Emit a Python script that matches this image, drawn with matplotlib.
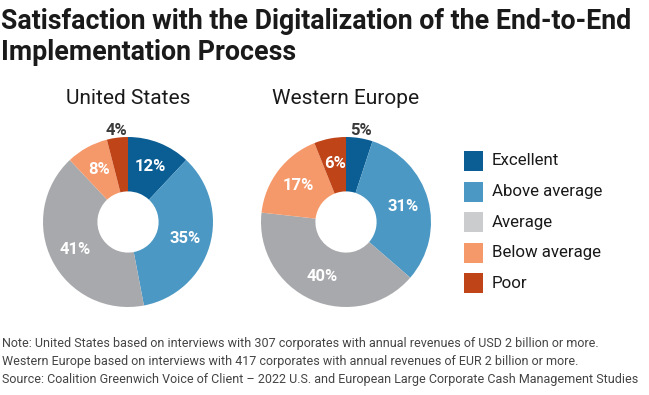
import numpy as np
import matplotlib
matplotlib.use('Agg')
import matplotlib.pyplot as plt
from matplotlib.patches import Rectangle

plt.rcParams['font.family'] = ['Roboto', 'DejaVu Sans']

categories = ['Excellent', 'Above average', 'Average', 'Below average', 'Poor']
colors = ['#0b5e94', '#4c98c4', '#a8a9ac', '#f5996b', '#bf4519']
legend_colors = ['#0b5e94', '#4c98c4', '#cbccce', '#f5996b', '#bf4519']
regions = ['United States', 'Western Europe']
us_values = [12, 35, 41, 8, 4]
we_values = [5, 31, 40, 17, 6]

W, H = 649, 395
fig = plt.figure(figsize=(W / 100, H / 100), dpi=100)

def px_axes(cx, cy, r):
    return fig.add_axes([(cx - r) / W, (H - cy - r) / H, 2 * r / W, 2 * r / H])

title = 'Satisfaction with the Digitalization of the End-to-End\nImplementation Process'
fig.text(1 / W, 1 - 8 / H, title, ha='left', va='top', fontsize=19.3, fontweight='bold',
         color='#1a1a1a', linespacing=1.18)

inner = 0.36
centers = [(128, 222), (346, 222)]
for region, values, (cx, cy) in zip(regions, [us_values, we_values], centers):
    ax = px_axes(cx, cy, 85)
    wedges, _ = ax.pie(values, colors=colors, startangle=90, counterclock=False, radius=1,
                       wedgeprops=dict(width=1 - inner, linewidth=0))
    ax.set_xlim(-1, 1)
    ax.set_ylim(-1, 1)
    ax.axis('off')
    for w, v in zip(wedges, values):
        ang = np.deg2rad((w.theta1 + w.theta2) / 2)
        if v < 6:
            r, col = 1.09, '#3a3a3a'
        else:
            r, col = (1 + inner) / 2 + 0.02, 'white'
        ax.text(r * np.cos(ang), r * np.sin(ang), f'{v}%', ha='center', va='center',
                fontsize=12, fontweight='bold', color=col, clip_on=False)
    fig.text(cx / W, 1 - 98 / H, region, ha='center', va='center', fontsize=15, color='#1a1a1a')

# legend
for i, (cat, col) in enumerate(zip(categories, legend_colors)):
    y = 161 + i * 30.5
    fig.patches.append(Rectangle(((464) / W, (H - y - 10) / H), 19 / W, 20 / H,
                                 transform=fig.transFigure, facecolor=col, edgecolor='none'))
    fig.text(492 / W, 1 - y / H, cat, ha='left', va='center', fontsize=12.2, color='#1a1a1a')

note = ('Note: United States based on interviews with 307 corporates with annual revenues of USD 2 billion or more.\n'
        'Western Europe based on interviews with 417 corporates with annual revenues of EUR 2 billion or more.\n'
        'Source: Coalition Greenwich Voice of Client \u2013 2022 U.S. and European Large Corporate Cash Management Studies')
fig.text(2 / W, 1 - 337 / H, note, ha='left', va='top', fontsize=9.0, color='#444444', linespacing=1.5)

fig.savefig('out.png', dpi=100)
